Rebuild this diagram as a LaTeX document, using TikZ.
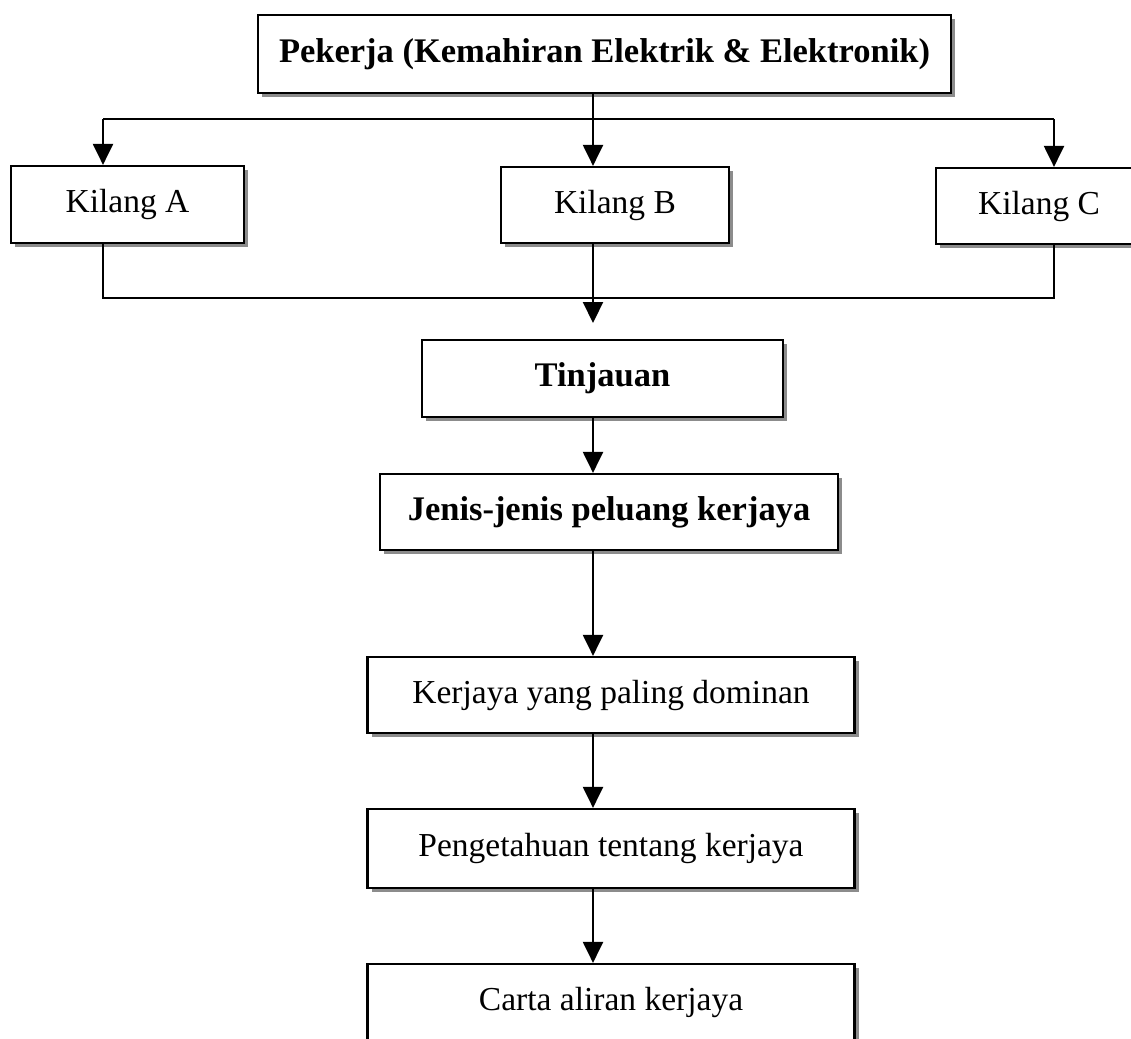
\documentclass[tikz,border=0pt]{standalone}
\usepackage{fontspec}
\setmainfont{Liberation Serif}
\usetikzlibrary{arrows.meta,shadows}
\begin{document}
\begin{tikzpicture}[x=1pt,y=-1pt,
  box/.style={draw=black, line width=2.2pt, fill=white, inner sep=0pt,
    general shadow={fill=black!45, shadow xshift=4pt, shadow yshift=-4pt},
    font=\fontsize{33.5}{40}\selectfont},
  boldbox/.style={box, font=\fontsize{34.5}{40}\selectfont\bfseries},
  conn/.style={line width=2.2pt},
  arr/.style={conn, -{Triangle[length=21pt,width=20pt]}}]
\useasboundingbox (0,0) rectangle (1131,1038);
\clip (0,0) rectangle (1131,1038);
\fill[white] (0,0) rectangle (1131,1038);
% boxes
\node[boldbox, minimum width=693pt, minimum height=78pt] (top) at (604.5,54) {Pekerja (Kemahiran Elektrik \& Elektronik)};
\node[box, minimum width=233pt, minimum height=77pt] (kA) at (127.5,204.5) {Kilang A};
\node[box, minimum width=228pt, minimum height=76pt] (kB) at (615,205) {Kilang B};
\node[box, minimum width=206pt, minimum height=76pt] (kC) at (1039,206) {Kilang C};
\node[boldbox, minimum width=361pt, minimum height=77pt] (tin) at (602.5,378.5) {Tinjauan};
\node[boldbox, minimum width=458pt, minimum height=76pt] (jen) at (609,512) {Jenis-jenis peluang kerjaya};
\node[box, minimum width=487pt, minimum height=76pt] (ker) at (611,695) {Kerjaya yang paling dominan};
\node[box, minimum width=487pt, minimum height=79pt] (pen) at (611,848.5) {Pengetahuan tentang kerjaya};
\node[box, minimum width=487pt, minimum height=77pt] (car) at (611,1002.5) {Carta aliran kerjaya};
% helper coordinates
\coordinate (mx) at (593,0);
\coordinate (sA) at (103,119);
\coordinate (sC) at (1054,119);
\coordinate (mA) at (103,298);
\coordinate (mC) at (1054,298);
\coordinate (tinIn) at (593,323);
% connectors
\draw[arr] (top.south -| mx) -- (kB.north -| mx);
\draw[conn] (sA) -- (sC);
\draw[arr] (sA) -- (kA.north -| sA);
\draw[arr] (sC) -- (kC.north -| sC);
\draw[conn] (kA.south -| mA) -- (mA) -- (mC) -- (kC.south -| mC);
\draw[arr] (kB.south -| mx) -- (tinIn);
\draw[arr] (tin.south -| mx) -- (jen.north -| mx);
\draw[arr] (jen.south -| mx) -- (ker.north -| mx);
\draw[arr] (ker.south -| mx) -- (pen.north -| mx);
\draw[arr] (pen.south -| mx) -- (car.north -| mx);
\end{tikzpicture}
\end{document}
